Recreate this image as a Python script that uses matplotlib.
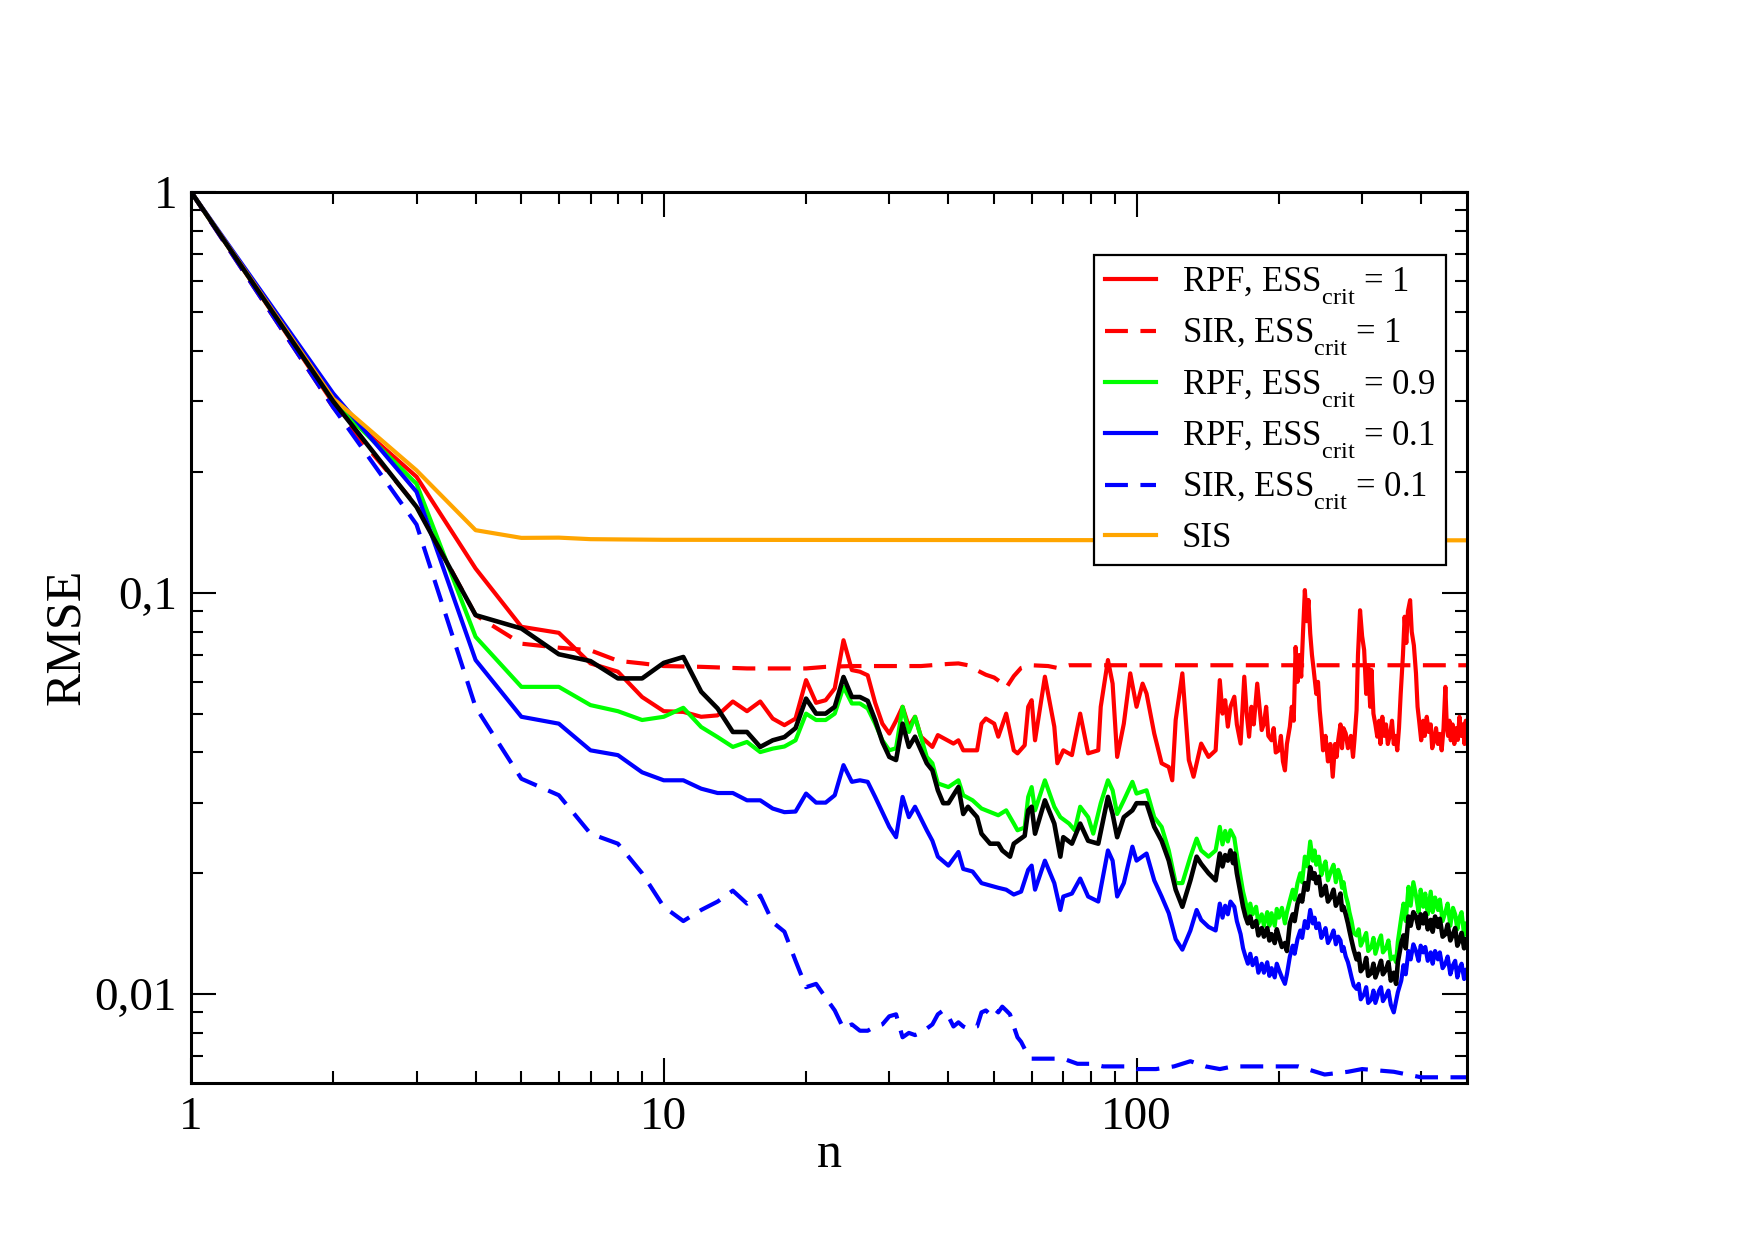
import matplotlib
matplotlib.use("Agg")
import matplotlib.pyplot as plt
from matplotlib.ticker import FixedLocator, FixedFormatter, NullFormatter
from matplotlib.lines import Line2D

try:
    import matplotlib._mathtext as _mt
    _mt.FontConstantsBase.sub1 = 0.8
    _mt.FontConstantsBase.sub2 = 0.8
except Exception:
    pass

# ---------------- data ----------------
rpf1_n = [1, 2, 3, 4, 5, 6, 7, 8, 9, 10, 11, 12, 13, 14, 15, 16, 17, 18, 19, 20,
          21, 22, 23, 24, 25, 26, 27, 28, 29, 30, 31, 32, 33, 34, 35, 37, 38, 41, 42, 43,
          46, 47, 48, 50, 51, 53, 55, 56, 58, 59, 60, 61, 64, 67, 68, 70, 73, 76, 79, 83,
          84, 87, 89, 91, 94, 97, 100, 103, 105, 109, 113, 117, 119, 121, 125, 129, 132, 137, 142, 147,
          150, 152, 154, 156, 158, 161, 163, 166, 169, 171, 173, 175, 177, 180, 182, 184, 186, 188, 190, 193,
          195, 197, 200, 202, 204, 206, 208, 211, 213, 215, 217, 219, 221, 223, 225, 227, 229, 231, 233, 235,
          237, 240, 242, 244, 246, 248, 251, 254, 257, 260, 263, 265, 267, 270, 272, 274, 277, 280, 284, 287,
          289, 292, 294, 297, 300, 303, 306, 309, 312, 314, 317, 320, 323, 326, 328, 331, 334, 337, 340, 344,
          347, 350, 353, 356, 359, 362, 366, 369, 372, 375, 379, 382, 386, 390, 393, 396, 400, 404, 407, 411,
          415, 419, 422, 426, 430, 434, 438, 442, 446, 448, 450, 453, 456, 459, 462, 466, 470, 474, 478, 482,
          486, 490, 494, 497, 500]
rpf1_v = [1.0, 0.297, 0.1947, 0.115, 0.0823, 0.0795, 0.0667, 0.0636, 0.0550, 0.0507, 0.0505, 0.0491, 0.0495, 0.0536, 0.0507, 0.0536, 0.0486, 0.0468, 0.0486, 0.0606,
          0.0532, 0.0540, 0.0578, 0.0762, 0.0642, 0.0636, 0.0623, 0.0532, 0.0472, 0.0446, 0.0480, 0.0520, 0.0464, 0.0491, 0.0438, 0.0413, 0.0442, 0.0421, 0.0429, 0.0405,
          0.0405, 0.0472, 0.0486, 0.0472, 0.0438, 0.0500, 0.0405, 0.0398, 0.0417, 0.0520, 0.0540, 0.0429, 0.0618, 0.0464, 0.0376, 0.0405, 0.0394, 0.0500, 0.0398, 0.0405,
          0.0520, 0.0680, 0.0594, 0.0390, 0.0472, 0.0630, 0.0520, 0.0594, 0.0561, 0.0446, 0.0376, 0.0368, 0.0341, 0.0482, 0.0630, 0.0383, 0.0348, 0.0421, 0.0390, 0.0405,
          0.0606, 0.0500, 0.0540, 0.0464, 0.0520, 0.0551, 0.0470, 0.0421, 0.0618, 0.0500, 0.0438, 0.0520, 0.0470, 0.0594, 0.0520, 0.0455, 0.0472, 0.0520, 0.0440, 0.0429,
          0.0460, 0.0400, 0.0405, 0.0440, 0.0380, 0.0361, 0.0420, 0.0464, 0.0520, 0.0480, 0.0733, 0.0600, 0.0700, 0.0618, 0.0800, 0.1016, 0.0850, 0.0960, 0.0792, 0.0700,
          0.0642, 0.0560, 0.0600, 0.0510, 0.0460, 0.0405, 0.0440, 0.0380, 0.0420, 0.0348, 0.0420, 0.0390, 0.0429, 0.0470, 0.0410, 0.0460, 0.0446, 0.0410, 0.0440, 0.0390,
          0.0430, 0.0510, 0.0700, 0.0905, 0.0780, 0.0720, 0.0560, 0.0660, 0.0520, 0.0642, 0.0500, 0.0470, 0.0438, 0.0480, 0.0420, 0.0491, 0.0440, 0.0470, 0.0420, 0.0446,
          0.0480, 0.0420, 0.0440, 0.0405, 0.0460, 0.0560, 0.0700, 0.0872, 0.0750, 0.0900, 0.0959, 0.0800, 0.0740, 0.0630, 0.0520, 0.0480, 0.0429, 0.0480, 0.0440, 0.0491,
          0.0450, 0.0470, 0.0410, 0.0429, 0.0460, 0.0420, 0.0445, 0.0405, 0.0460, 0.0520, 0.0583, 0.0470, 0.0440, 0.0480, 0.0429, 0.0470, 0.0420, 0.0460, 0.0430, 0.0491,
          0.0440, 0.0470, 0.0420, 0.0480, 0.0450]

sir1_n = [1, 2, 3, 4, 5, 6, 7, 8, 9, 10, 12, 15, 20, 22, 25, 30, 35, 40, 42, 44,
          46, 48, 50, 52, 53, 55, 57, 60, 65, 68, 72, 100, 200, 500]
sir1_v = [1.0, 0.290, 0.165, 0.088, 0.0747, 0.0730, 0.0719, 0.0677, 0.0667, 0.0657, 0.0654, 0.0648, 0.0648, 0.0654, 0.0657, 0.0657, 0.0657, 0.0665, 0.0667, 0.0660,
          0.0641, 0.0625, 0.0615, 0.0595, 0.0580, 0.0620, 0.0650, 0.0660, 0.0657, 0.0650, 0.0660, 0.0660, 0.0660, 0.0660]

rpf09_n = [1, 2, 3, 4, 5, 6, 7, 8, 9, 10, 11, 12, 13, 14, 15, 16, 17, 18, 19, 20,
           21, 22, 23, 24, 25, 26, 27, 28, 29, 30, 31, 32, 33, 34, 36, 37, 38, 40, 42, 43,
           45, 47, 51, 53, 55, 56, 58, 59, 60, 61, 64, 67, 69, 72, 74, 76, 79, 81, 84, 87,
           89, 91, 94, 98, 100, 105, 109, 113, 117, 121, 125, 130, 134, 137, 142, 147,
           150, 152, 154, 156, 158, 161, 163, 166, 168, 170, 172, 174, 176, 179, 181, 184, 186, 189, 191, 193,
           196, 198, 200, 203, 206, 208, 211, 214, 216, 219, 222, 224, 227, 230, 233, 236, 238, 240, 243, 246,
           248, 251, 254, 258, 261, 264, 267, 270, 272, 274, 277, 280, 282, 285, 288, 292, 295, 298, 303, 306,
           309, 314, 317, 320, 326, 329, 332, 337, 341, 345, 350, 354, 357, 363, 367, 371, 376, 380, 385, 390,
           395, 399, 404, 408, 413, 419, 423, 428, 434, 438, 444, 450, 455, 461, 467, 472, 477, 482, 487, 493,
           497, 500]
rpf09_v = [1.0, 0.300, 0.187, 0.0777, 0.0583, 0.0583, 0.0525, 0.0507, 0.0482, 0.0491, 0.0517, 0.0463, 0.0437, 0.0413, 0.0425, 0.0401, 0.0409, 0.0414, 0.0429, 0.0500,
           0.0482, 0.0482, 0.0500, 0.0583, 0.0530, 0.0530, 0.0515, 0.0472, 0.0429, 0.0405, 0.0410, 0.0520, 0.0450, 0.0491, 0.0390, 0.0376, 0.0335, 0.0328, 0.0341, 0.0313,
           0.0304, 0.0290, 0.0279, 0.0287, 0.0266, 0.0256, 0.0260, 0.0310, 0.0328, 0.0287, 0.0341, 0.0293, 0.0276, 0.0266, 0.0256, 0.0293, 0.0276, 0.0251, 0.0299, 0.0341,
           0.0322, 0.0281, 0.0304, 0.0338, 0.0316, 0.0322, 0.0276, 0.0261, 0.0228, 0.0189, 0.0189, 0.0220, 0.0244, 0.0228, 0.0220, 0.0228,
           0.0261, 0.0236, 0.0255, 0.0240, 0.0256, 0.0245, 0.0222, 0.0196, 0.0180, 0.0170, 0.0158, 0.0168, 0.0158, 0.0165, 0.0150, 0.0158, 0.0148, 0.0160, 0.0148, 0.0159,
           0.0148, 0.0163, 0.0155, 0.0164, 0.0150, 0.0160, 0.0171, 0.0182, 0.0172, 0.0189, 0.0200, 0.0190, 0.0220, 0.0208, 0.0240, 0.0215, 0.0228, 0.0210, 0.0220, 0.0198,
           0.0206, 0.0214, 0.0192, 0.0203, 0.0210, 0.0190, 0.0204, 0.0196, 0.0184, 0.0190, 0.0176, 0.0168, 0.0160, 0.0152, 0.0142, 0.0140, 0.0145, 0.0132, 0.0138, 0.0142,
           0.0128, 0.0131, 0.0138, 0.0126, 0.0136, 0.0140, 0.0127, 0.0130, 0.0136, 0.0122, 0.0124, 0.0120, 0.0135, 0.0155, 0.0168, 0.0152, 0.0185, 0.0166, 0.0190, 0.0176,
           0.0160, 0.0182, 0.0165, 0.0178, 0.0158, 0.0180, 0.0160, 0.0174, 0.0162, 0.0172, 0.0152, 0.0160, 0.0168, 0.0148, 0.0164, 0.0158, 0.0145, 0.0155, 0.0160, 0.0140,
           0.0150, 0.0142]

rpf01_n = [1, 2, 3, 4, 5, 6, 7, 8, 9, 10, 11, 12, 13, 14, 15, 16, 17, 18, 19, 20,
           21, 22, 23, 24, 25, 26, 27, 28, 29, 30, 31, 32, 33, 34, 36, 37, 38, 40, 42, 43,
           45, 47, 51, 53, 55, 57, 59, 60, 61, 64, 67, 69, 70, 73, 76, 79, 83, 87, 89, 91,
           94, 98, 100, 105, 109, 113, 117, 121, 125, 130, 134, 137, 142, 147,
           150, 152, 154, 156, 158, 161, 163, 166, 168, 170, 172, 174, 176, 179, 181, 184, 186, 189, 191, 193,
           196, 198, 200, 203, 206, 208, 211, 214, 216, 219, 222, 224, 227, 230, 233, 236, 238, 240, 243, 246,
           248, 251, 254, 258, 261, 264, 267, 270, 272, 274, 277, 280, 282, 285, 288, 292, 295, 298, 303, 306,
           309, 314, 317, 320, 326, 329, 332, 337, 341, 345, 350, 354, 357, 363, 367, 371, 376, 380, 385, 390,
           395, 399, 404, 408, 413, 419, 423, 428, 434, 438, 444, 450, 455, 461, 467, 472, 477, 482, 487, 493,
           497, 500]
rpf01_v = [1.0, 0.314, 0.1786, 0.068, 0.0491, 0.0472, 0.0405, 0.0394, 0.0357, 0.0341, 0.0341, 0.0325, 0.0317, 0.0317, 0.0304, 0.0304, 0.0290, 0.0284, 0.0285, 0.0316,
           0.0300, 0.0300, 0.0313, 0.0372, 0.0338, 0.0341, 0.0338, 0.0310, 0.0284, 0.0261, 0.0246, 0.0310, 0.0276, 0.0293, 0.0256, 0.0241, 0.0220, 0.0209, 0.0226, 0.0205,
           0.0202, 0.0189, 0.0184, 0.0182, 0.0177, 0.0180, 0.0204, 0.0209, 0.0182, 0.0215, 0.0189, 0.0162, 0.0175, 0.0178, 0.0194, 0.0175, 0.0170, 0.0228, 0.0215, 0.0175,
           0.0189, 0.0233, 0.0215, 0.0224, 0.0192, 0.0175, 0.0159, 0.0137, 0.0129, 0.0144, 0.0162, 0.0153, 0.0147, 0.0144,
           0.0168, 0.0155, 0.0166, 0.0158, 0.0170, 0.0165, 0.0152, 0.0141, 0.0130, 0.0124, 0.0119, 0.0126, 0.0118, 0.0123, 0.0113, 0.0119, 0.0113, 0.0120, 0.0111, 0.0116,
           0.0110, 0.0119, 0.0115, 0.0110, 0.0106, 0.0112, 0.0124, 0.0132, 0.0126, 0.0137, 0.0144, 0.0138, 0.0152, 0.0146, 0.0162, 0.0150, 0.0155, 0.0146, 0.0150, 0.0138,
           0.0141, 0.0146, 0.0134, 0.0139, 0.0144, 0.0133, 0.0139, 0.0136, 0.0128, 0.0131, 0.0124, 0.0120, 0.0116, 0.0110, 0.0105, 0.0103, 0.0106, 0.0097, 0.0100, 0.0104,
           0.0095, 0.0097, 0.0102, 0.0095, 0.0102, 0.0104, 0.0096, 0.0099, 0.0102, 0.0094, 0.0090, 0.0096, 0.0101, 0.0108, 0.0118, 0.0112, 0.0128, 0.0122, 0.0133, 0.0128,
           0.0121, 0.0132, 0.0127, 0.0131, 0.0121, 0.0127, 0.0119, 0.0128, 0.0122, 0.0127, 0.0116, 0.0119, 0.0124, 0.0112, 0.0118, 0.0121, 0.0110, 0.0116, 0.0119, 0.0109,
           0.0115, 0.0113]

sir01_n = [1, 2, 3, 4, 5, 6, 7, 8, 9, 10, 11, 12, 13, 14, 15, 16, 17, 18, 19, 20,
           21, 22, 23, 24, 25, 26, 27, 28, 29, 30, 31, 32, 33, 34, 35, 36, 37, 38, 39, 40,
           41, 42, 43, 44, 46, 47, 48, 49, 50, 51, 52, 53, 54, 55, 56, 57, 58, 59, 60, 65,
           70, 75, 80, 85, 90, 95, 100, 110, 120, 130, 140, 150, 160, 180, 200, 220, 250, 280, 300, 350,
           400, 450, 500]
sir01_v = [1.0, 0.290, 0.148, 0.0519, 0.0344, 0.0313, 0.0251, 0.0237, 0.0200, 0.0165, 0.0152, 0.0162, 0.0170, 0.0181, 0.0168, 0.0176, 0.0151, 0.0143, 0.0121, 0.0104,
           0.0106, 0.0098, 0.0091, 0.0082, 0.0084, 0.0081, 0.0081, 0.0083, 0.0084, 0.0088, 0.0089, 0.0078, 0.0080, 0.0079, 0.0080, 0.0082, 0.0084, 0.0089, 0.0091, 0.0088,
           0.0083, 0.0085, 0.0083, 0.0082, 0.0083, 0.0090, 0.0091, 0.0089, 0.0092, 0.0090, 0.0093, 0.0091, 0.0089, 0.0083, 0.0078, 0.0076, 0.0073, 0.0070, 0.0069, 0.0069,
           0.0069, 0.0067, 0.0067, 0.0066, 0.0066, 0.0066, 0.0065, 0.0065, 0.0066, 0.0068, 0.0066, 0.0065, 0.0066, 0.0066, 0.0066, 0.0066, 0.0063, 0.0064, 0.0065, 0.0064,
           0.0062, 0.0062, 0.0062]

sis_n = [1, 2, 3, 4, 5, 6, 7, 8, 10, 20, 50, 100, 500]
sis_v = [1.0, 0.305, 0.202, 0.1433, 0.1371, 0.1373, 0.1361, 0.1359, 0.1356, 0.1355, 0.1354, 0.1353, 0.1352]

ref_n = [1, 2, 3, 4, 5, 6, 7, 8, 9, 10, 11, 12, 13, 14, 15, 16, 17, 18, 19, 20,
         21, 22, 23, 24, 25, 26, 27, 28, 29, 30, 31, 32, 33, 34, 36, 37, 38, 39, 40, 42,
         43, 44, 46, 47, 49, 51, 52, 54, 55, 58, 59, 60, 61, 64, 67, 69, 70, 73, 76, 79,
         83, 87, 89, 91, 94, 98, 100, 105, 109, 113, 117, 121, 125, 130, 134, 137, 142, 147,
         150, 152, 154, 156, 158, 160, 161, 163, 166, 168, 170, 172, 174, 176, 179, 181, 184, 186, 189, 191,
         193, 196, 198, 200, 203, 206, 208, 211, 214, 216, 219, 222, 224, 227, 230, 233, 236, 238, 240, 243,
         246, 248, 251, 254, 258, 261, 264, 267, 270, 272, 274, 277, 280, 282, 285, 288, 292, 295, 298, 303,
         306, 309, 314, 317, 320, 326, 329, 332, 337, 341, 345, 350, 354, 357, 363, 367, 371, 376, 380, 385,
         390, 395, 399, 404, 408, 413, 419, 423, 428, 434, 438, 444, 450, 455, 461, 467, 472, 477, 482, 487,
         493, 497, 500]
ref_v = [1.0, 0.300, 0.1638, 0.088, 0.0815, 0.0703, 0.0676, 0.0612, 0.0612, 0.0669, 0.0692, 0.0567, 0.0515, 0.0450, 0.0450, 0.0413, 0.0429, 0.0437, 0.0460, 0.0545,
         0.0500, 0.0500, 0.0520, 0.0617, 0.0550, 0.0550, 0.0538, 0.0482, 0.0425, 0.0390, 0.0383, 0.0472, 0.0413, 0.0438, 0.0376, 0.0361, 0.0322, 0.0299, 0.0299, 0.0328,
         0.0281, 0.0293, 0.0276, 0.0251, 0.0237, 0.0237, 0.0228, 0.0220, 0.0237, 0.0248, 0.0287, 0.0293, 0.0251, 0.0304, 0.0266, 0.0220, 0.0246, 0.0237, 0.0266, 0.0241,
         0.0237, 0.0310, 0.0281, 0.0246, 0.0276, 0.0287, 0.0299, 0.0299, 0.0261, 0.0241, 0.0215, 0.0182, 0.0165, 0.0192, 0.0220, 0.0211, 0.0200, 0.0192,
         0.0224, 0.0208, 0.0222, 0.0215, 0.0228, 0.0212, 0.0224, 0.0200, 0.0178, 0.0165, 0.0156, 0.0150, 0.0156, 0.0147, 0.0152, 0.0140, 0.0146, 0.0139, 0.0146, 0.0136,
         0.0141, 0.0134, 0.0145, 0.0139, 0.0131, 0.0134, 0.0128, 0.0150, 0.0158, 0.0152, 0.0168, 0.0176, 0.0170, 0.0189, 0.0182, 0.0207, 0.0194, 0.0200, 0.0189, 0.0196,
         0.0176, 0.0178, 0.0186, 0.0170, 0.0175, 0.0182, 0.0166, 0.0171, 0.0178, 0.0162, 0.0165, 0.0158, 0.0150, 0.0144, 0.0136, 0.0129, 0.0122, 0.0126, 0.0114, 0.0117,
         0.0123, 0.0111, 0.0113, 0.0119, 0.0110, 0.0117, 0.0121, 0.0112, 0.0115, 0.0120, 0.0108, 0.0113, 0.0106, 0.0120, 0.0134, 0.0140, 0.0130, 0.0156, 0.0148, 0.0160,
         0.0156, 0.0146, 0.0158, 0.0150, 0.0159, 0.0145, 0.0153, 0.0143, 0.0156, 0.0147, 0.0154, 0.0139, 0.0141, 0.0149, 0.0136, 0.0141, 0.0146, 0.0132, 0.0136, 0.0142,
         0.0130, 0.0137, 0.0132]

labels = ["RPF, ESS$_{\\mathrm{crit}}$ = 1", "SIR, ESS$_{\\mathrm{crit}}$ = 1",
          "RPF, ESS$_{\\mathrm{crit}}$ = 0.9", "RPF, ESS$_{\\mathrm{crit}}$ = 0.1",
          "SIR, ESS$_{\\mathrm{crit}}$ = 0.1", "SIS"]
xtick_vals = [1, 10, 100]
xtick_labels = ["1", "10", "100"]
ytick_vals = [1, 0.1, 0.01]
ytick_labels = ["1", "0,1", "0,01"]

# ---------------- style ----------------
plt.rcParams['font.family'] = ['Liberation Serif', 'DejaVu Serif']
plt.rcParams['mathtext.fontset'] = 'custom'
plt.rcParams['mathtext.rm'] = 'Liberation Serif'
plt.rcParams['mathtext.it'] = 'Liberation Serif:italic'
plt.rcParams['mathtext.bf'] = 'Liberation Serif:bold'

fig = plt.figure(figsize=(17.55, 12.4), dpi=100)
ax = fig.add_axes([0.1088, 0.1266, 0.7271, 0.7188])

lw = 3.0
RED = (1, 0, 0)
GREEN = (0, 1, 0)
BLUE = (0, 0, 1)
ORANGE = (1, 0.647, 0)
dash = (5.5, 3.0)

ax.plot(rpf1_n, rpf1_v, color=RED, lw=lw)
ax.plot(sir1_n, sir1_v, color=RED, lw=lw, dashes=dash)
ax.plot(rpf09_n, rpf09_v, color=GREEN, lw=lw)
ax.plot(rpf01_n, rpf01_v, color=BLUE, lw=lw)
ax.plot(sir01_n, sir01_v, color=BLUE, lw=lw, dashes=dash)
ax.plot(sis_n, sis_v, color=ORANGE, lw=lw)
ax.plot(ref_n, ref_v, color='black', lw=lw + 0.3)

ax.set_xscale('log')
ax.set_yscale('log')
ax.set_xlim(1, 500)
ax.set_ylim(0.006, 1)

ax.xaxis.set_major_locator(FixedLocator(xtick_vals))
ax.xaxis.set_major_formatter(FixedFormatter(xtick_labels))
ax.yaxis.set_major_locator(FixedLocator(ytick_vals))
ax.yaxis.set_major_formatter(FixedFormatter(ytick_labels))
xminor = [m * d for d in (1, 10, 100) for m in range(2, 10) if m * d < 500]
yminor = [m * d for d in (0.001, 0.01, 0.1) for m in range(2, 10) if m * d > 0.006]
ax.xaxis.set_minor_locator(FixedLocator(xminor))
ax.yaxis.set_minor_locator(FixedLocator(yminor))
ax.xaxis.set_minor_formatter(NullFormatter())
ax.yaxis.set_minor_formatter(NullFormatter())

ax.tick_params(which='both', direction='in', top=True, right=True)
ax.tick_params(which='major', length=18, width=1.5, labelsize=34, pad=10)
ax.tick_params(which='minor', length=8.8, width=1.5)
for s in ax.spines.values():
    s.set_linewidth(2.2)

ax.set_xlabel("n", fontsize=36, labelpad=-6)
ax.set_ylabel("RMSE", fontsize=36, labelpad=3)

handles = [Line2D([], [], color=RED, lw=lw),
           Line2D([], [], color=RED, lw=lw, dashes=dash),
           Line2D([], [], color=GREEN, lw=lw),
           Line2D([], [], color=BLUE, lw=lw),
           Line2D([], [], color=BLUE, lw=lw, dashes=dash),
           Line2D([], [], color=ORANGE, lw=lw)]
leg = ax.legend(handles, labels, loc='upper right', bbox_to_anchor=(0.9835, 0.929),
                fontsize=25, frameon=True, fancybox=False, framealpha=1,
                edgecolor='black', handlelength=1.47, handletextpad=0.75,
                labelspacing=0.28, borderpad=0.3, borderaxespad=0.0)
leg.get_frame().set_linewidth(1.6)

fig.savefig("out.png", dpi=100)
